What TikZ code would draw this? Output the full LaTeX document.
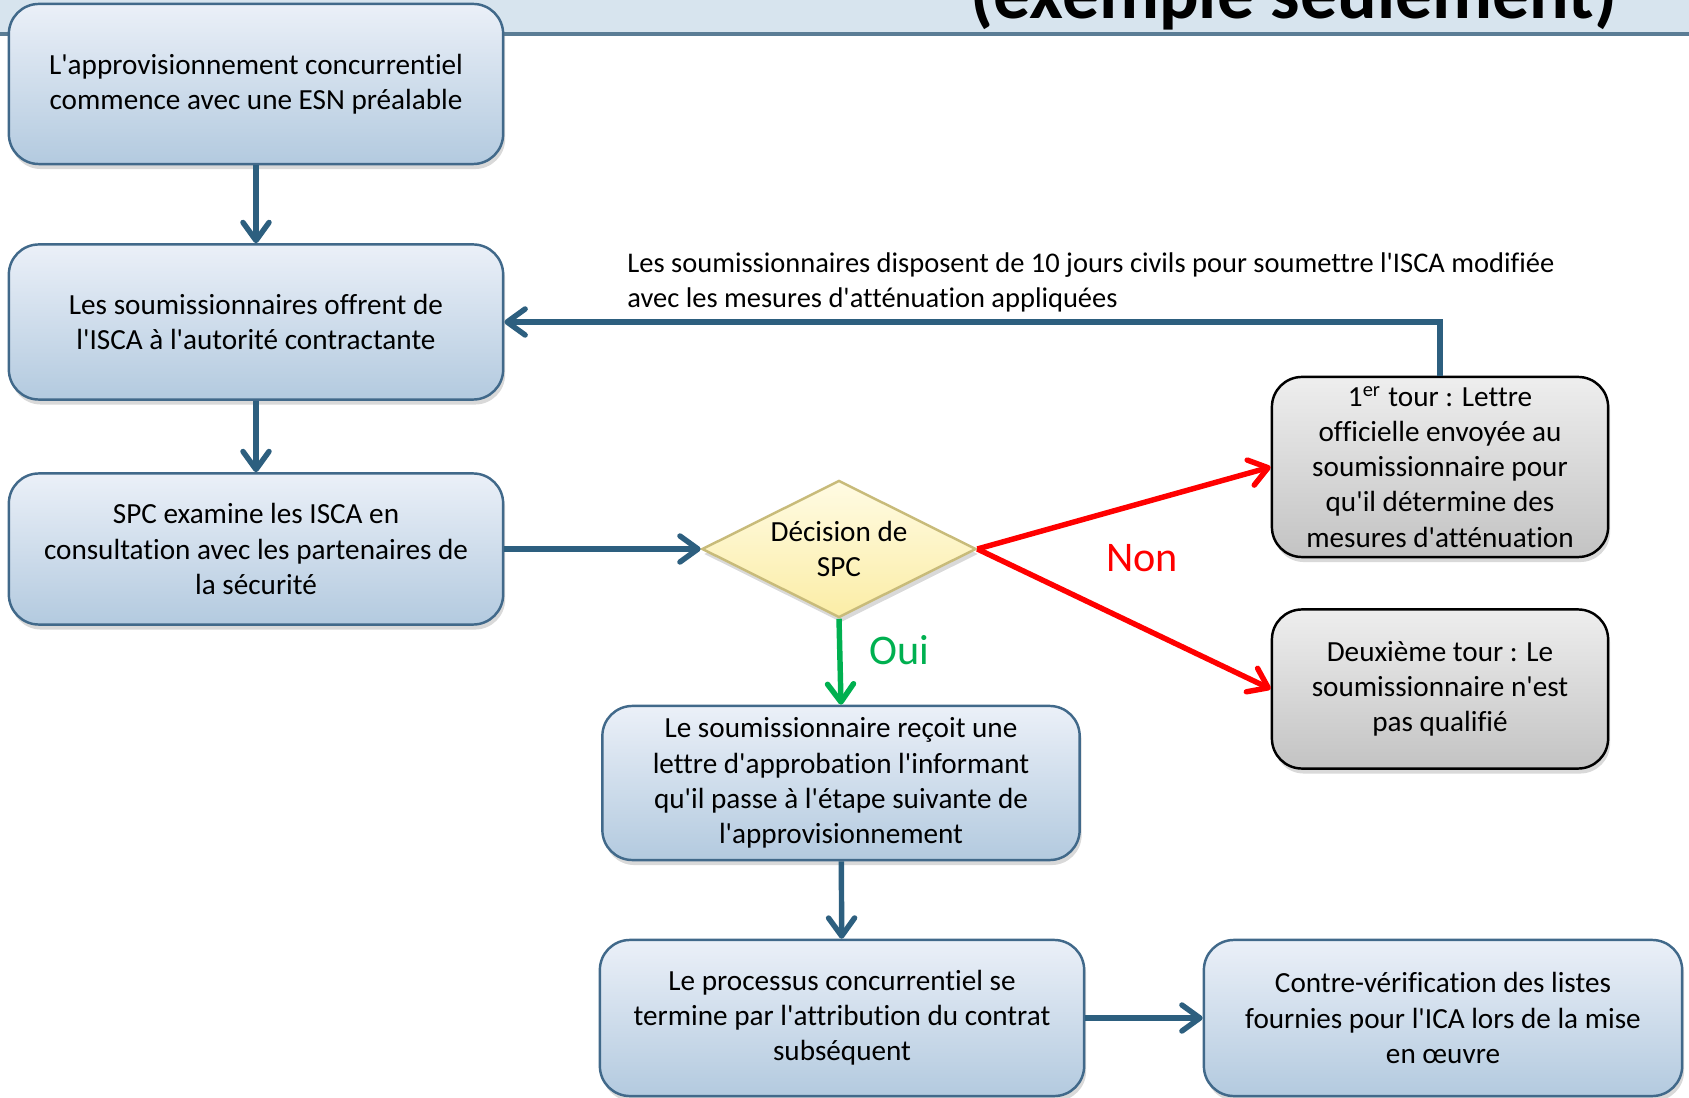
\documentclass[tikz,border=0pt]{standalone}
\usepackage{fontspec}
\setmainfont{Carlito}[Ligatures={TeXOff,CommonOff}]
\usepackage{tikz}
\usetikzlibrary{
        shadows,
        shapes,
        positioning,
        arrows.meta
    }

\definecolor{boxtop}{HTML}{EBF0F8}
\definecolor{boxbottom}{HTML}{B3CADF}
\definecolor{boxline}{HTML}{41698A}
\definecolor{arrowblue}{HTML}{2D5F7F}
\definecolor{greytop}{HTML}{EEEEEE}
\definecolor{greybottom}{HTML}{C3C3C3}
\definecolor{dectop}{HTML}{FFFBE3}
\definecolor{decbottom}{HTML}{FBEDA6}
\definecolor{decline}{HTML}{C8BB7A}
\definecolor{ouigreen}{HTML}{00B050}
\definecolor{headfill}{HTML}{D7E4EE}
\definecolor{headline}{HTML}{5B7D95}

\begin{document}
\begin{tikzpicture}
[x=0.01cm, y=-0.01cm,
baseshape/.style={text centered, align=center, font=\fontsize{8.3}{10}\selectfont, line width=0.7pt, rounded corners=0.3cm, inner sep=0pt, drop shadow={opacity=0.3, shadow xshift=0.02cm, shadow yshift=-0.05cm}},
process/.style={baseshape, rectangle, draw=boxline, top color=boxtop, bottom color=boxbottom},
round/.style={baseshape, rectangle, draw=black, top color=greytop, bottom color=greybottom, minimum width=3.36cm},
decision/.style={baseshape, diamond, rounded corners=0pt, aspect=2, draw=decline, top color=dectop, bottom color=decbottom, minimum width=2.74cm, minimum height=1.37cm},
arrow/.style={line width=1.55pt, draw=arrowblue, -{Straight Barb[length=0.18cm, width=0.26cm, round]}},
noarrow/.style={arrow, draw=red},
yesarrow/.style={arrow, draw=ouigreen},
]

    \clip (0,0) rectangle (1689,1098);
    \fill[headfill] (0,0) rectangle (1689,34);
    \draw[headline, line width=0.9pt] (0,34) -- (1689,34);
    \node (title) [anchor=base east, inner sep=0pt, font=\fontsize{21}{25}\selectfont\bfseries] at (1618,19) {(exemple seulement)};

    \node (start) [process, minimum width=4.94cm, minimum height=1.6cm] at (256,84) {L'approvisionnement concurrentiel\\commence avec une ESN préalable};
    \node (offer) [process, minimum width=4.94cm, minimum height=1.55cm] at (256,322) {Les soumissionnaires offrent de\\l'ISCA à l'autorité contractante};
    \node (review) [process, minimum width=4.94cm, minimum height=1.51cm] at (256,549) {SPC examine les ISCA en\\consultation avec les partenaires de\\la sécurité};
    \node (decide) [decision] at (839,549) {Décision de\\SPC};
    \node (approve) [process, minimum width=4.77cm, minimum height=1.54cm] at (841,783) {Le soumissionnaire reçoit une\\lettre d'approbation l'informant\\qu'il passe à l'étape suivante de\\l'approvisionnement};
    \node (award) [process, minimum width=4.84cm, minimum height=1.56cm] at (842,1018) {Le processus concurrentiel se\\termine par l'attribution du contrat\\subséquent};
    \node (check) [process, minimum width=4.78cm, minimum height=1.56cm] at (1443,1018) {Contre-vérification des listes\\fournies pour l'ICA lors de la mise\\en \oe uvre};
    \node (round1) [round, minimum height=1.8cm] at (1440,467) {1\textsuperscript{er} tour : Lettre\\officielle envoyée au\\soumissionnaire pour\\qu'il détermine des\\mesures d'atténuation};
    \node (round2) [round, minimum height=1.59cm] at (1440,689) {Deuxième tour : Le\\soumissionnaire n'est\\pas qualifié};

    \draw[arrow] (start) -- (offer);
    \draw[arrow] (offer) -- (review);
    \draw[arrow] (review) -- (decide);
    \draw[yesarrow] (decide.south) -- node[right, pos=0.37, xshift=0.15cm, text=ouigreen, font=\fontsize{12}{14}\selectfont] (oui) {Oui} (approve.north);
    \draw[arrow] (approve) -- (award);
    \draw[arrow] (award) -- (check);
    \draw[noarrow] (decide.east) -- (round1.west);
    \draw[noarrow] (decide.east) -- (round2.west);
    \node (non) [text=red, font=\fontsize{12}{14}\selectfont] at (1142,558) {Non};
    \draw[arrow] (round1.north) |- (offer.east);
    \node (delay) [anchor=west, align=left, font=\fontsize{8.1}{10}\selectfont] at (615,282) {Les soumissionnaires disposent de 10 jours civils pour soumettre l'ISCA modifiée\\avec les mesures d'atténuation appliquées};
\end{tikzpicture}
\end{document}
